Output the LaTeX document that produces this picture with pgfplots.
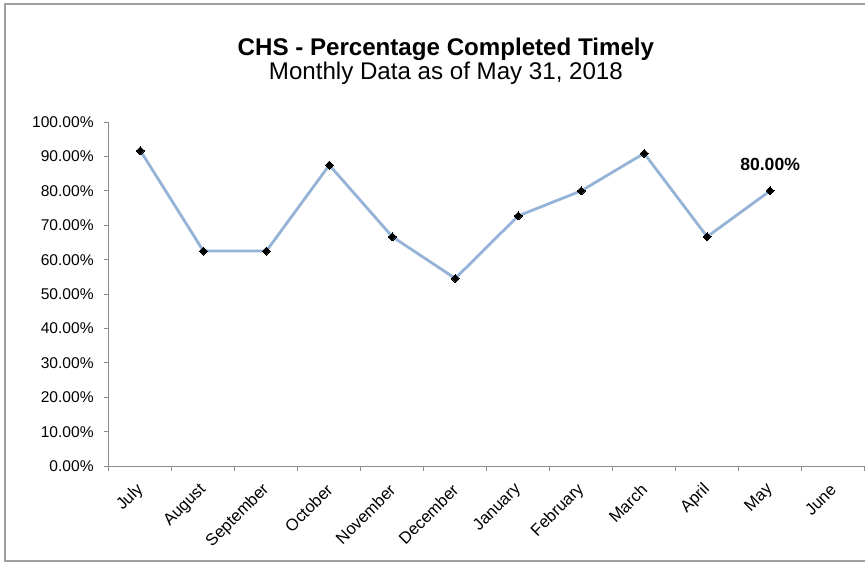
\documentclass[border=0pt]{standalone}
\usepackage{pgfplots}
\pgfplotsset{compat=1.18}
\usepackage{fontspec}
\setmainfont{Liberation Sans}
\definecolor{linecol}{HTML}{95B3D7}
\definecolor{axcol}{HTML}{8C8C8C}
\definecolor{framecol}{HTML}{A0A0A0}

\begin{document}
\begin{tikzpicture}
\begin{axis}[
    scale only axis,
    width=749bp, height=341bp,
    xmin=-0.5, xmax=11.5,
    ymin=0, ymax=100,
    axis x line=bottom, axis y line=left,
    axis line style={axcol, line width=0.9bp, -},
    tick align=outside,
    tick style={axcol, line width=0.9bp},
    % month names centred on each category, ticks on the boundaries
    xtick={0,1,2,3,4,5,6,7,8,9,10,11},
    xticklabels={July,August,September,October,November,December,January,February,March,April,May,June},
    major x tick style={draw=none},
    minor xtick={-0.5,0.5,...,11.5},
    minor tick length=5bp,
    major tick length=5bp,
    x tick label style={xshift=1bp, yshift=-15bp, rotate=45, anchor=east,
        font=\fontsize{16.5}{18}\selectfont, inner sep=1bp},
    ytick={0,10,...,100},
    yticklabel={\pgfmathprintnumber[fixed,fixed zerofill,precision=2]{\tick}\%},
    y tick label style={font=\fontsize{15.5}{18}\selectfont, inner sep=1bp, xshift=-9bp},
    /pgf/number format/assume math mode=true,
    clip=false,
]
\addplot[color=linecol, line width=2.8bp, mark=square*,
    mark size=2.8bp, mark options={black, fill=black, rotate=45, line width=0pt}]
coordinates {
    (0, 91.67)
    (1, 62.50)
    (2, 62.50)
    (3, 87.50)
    (4, 66.67)
    (5, 54.55)
    (6, 72.73)
    (7, 80.00)
    (8, 90.91)
    (9, 66.67)
    (10, 80.00)
};
\node[anchor=base, font=\bfseries\fontsize{17.5}{20}\selectfont, inner sep=0pt]
    at (axis cs:10,80) [yshift=20bp] {80.00\%};
\end{axis}
\useasboundingbox ([shift={(-108bp,-95bp)}]current axis.south west)
    rectangle ([shift={(8bp,462bp)}]current axis.south west);
\draw[framecol, line width=1.3bp]
    ([shift={(8bp,-94bp)}]current axis.south west -| current axis.south east)
    -- ([shift={(-103bp,-94bp)}]current axis.south west)
    -- ([shift={(-103bp,458bp)}]current axis.south west)
    -- ([shift={(8bp,458bp)}]current axis.south west -| current axis.south east);
\node[anchor=base, inner sep=0pt, font=\bfseries\fontsize{24}{26}\selectfont]
    at ([shift={(334bp,407bp)}]current axis.south west) {CHS - Percentage Completed Timely};
\node[anchor=base, inner sep=0pt, font=\fontsize{24}{26}\selectfont]
    at ([shift={(334bp,383bp)}]current axis.south west) {Monthly Data as of May 31, 2018};
\end{tikzpicture}
\end{document}
